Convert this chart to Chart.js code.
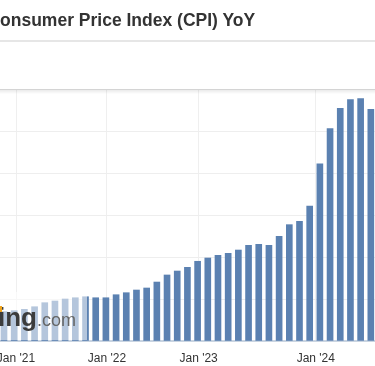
<!DOCTYPE html>
<html>
<head>
<meta charset="utf-8">
<script src="https://cdn.jsdelivr.net/npm/chart.js@4.4.1/dist/chart.umd.min.js"></script>
<style>
  html, body { margin: 0; padding: 0; background: #fff; }
  #wrap { position: relative; width: 375px; height: 366px; overflow: hidden; }
  #chart { position: absolute; left: 0; top: 0; }
  #title {
    position: absolute; left: -12.6px; top: 12px; white-space: nowrap;
    font: bold 17.5px "Liberation Sans", Arial, sans-serif; line-height: 1; color: #333;
  }
  #sep { position: absolute; left: 0; top: 40px; width: 375px; height: 2px; background: #e6e6e6; }
  #wm-cover { position: absolute; left: 0; top: 292px; width: 87px; height: 48px; background: rgba(255,255,255,0.55); }
  #wm {
    position: absolute; right: 299px; top: 304px; white-space: nowrap; text-align: right;
    font-family: "Liberation Sans", Arial, sans-serif; line-height: 1;
  }
  #wm .a { font-size: 26px; font-weight: bold; color: #3c3c3c; }
  #wm .b { font-size: 18px; color: #666; }
  #wm-dot { position: absolute; left: 0; top: 306px; width: 2px; height: 6px; background: #f2a51c; }
</style>
</head>
<body>
<div id="wrap">
  <canvas id="chart" width="375" height="366"></canvas>
  <div id="title">Consumer Price Index (CPI) YoY</div>
  <div id="sep"></div>
  <div id="wm-cover"></div>
  <div id="wm"><span class="a">Investing</span><span class="b">.com</span></div>
  <div id="wm-dot"></div>
</div>
<script>
// releases shown on the chart (one month is missing in the source, Nov '22)
var months = ["Dec '20", "Jan '21", "Feb '21", "Mar '21", "Apr '21", "May '21", "Jun '21", "Jul '21",
  "Sep '21", "Nov '21", "Jan '22", "Mar '22", "Apr '22", "May '22", "Jun '22", "Jul '22",
  "Aug '22", "Sep '22", "Oct '22", "Dec '22", "Jan '23", "Feb '23", "Mar '23", "Apr '23",
  "May '23", "Jun '23", "Jul '23", "Aug '23", "Sep '23", "Oct '23", "Nov '23", "Dec '23",
  "Jan '24", "Feb '24", "Mar '24", "Apr '24", "May '24"];

// YoY %
var cpiValues = [34.9, 36.1, 37.7, 40.8, 45.6, 47.6, 50.0, 51.5, 52.7, 51.5, 51.5, 55.1,
  57.5, 60.7, 63.1, 70.2, 78.6, 83.3, 87.7, 94.9, 98.8, 102.0, 104.4, 108.3, 113.9,
  115.1, 113.9, 124.6, 138.5, 142.5, 160.7, 211.0, 253.0, 277.0, 287.5, 288.5, 275.8];

// where the year labels sit, counted in bars from the first one
var yearTickPos = [1.18, 10.1, 19.1, 30.6];
var yearTickLabels = ["Jan '21", "Jan '22", "Jan '23", "Jan '24"];

var points = cpiValues.map(function (v, i) { return { x: i, y: v }; });

// darker top rule with a soft shadow under it
var topRule = {
  id: "topRule",
  afterDraw: function (chart) {
    var ctx = chart.ctx, a = chart.chartArea;
    ctx.save();
    var g = ctx.createLinearGradient(0, a.top, 0, a.top + 5);
    g.addColorStop(0, "rgba(0,0,0,0.10)");
    g.addColorStop(1, "rgba(0,0,0,0)");
    ctx.fillStyle = g;
    ctx.fillRect(0, a.top, chart.width, 5);
    ctx.strokeStyle = "#d4d4d4";
    ctx.lineWidth = 1;
    ctx.beginPath();
    ctx.moveTo(0, a.top + 0.5);
    ctx.lineTo(chart.width, a.top + 0.5);
    ctx.stroke();
    ctx.restore();
  }
};

new Chart(document.getElementById("chart"), {
  type: "bar",
  data: {
    labels: months,
    datasets: [{
      label: "CPI YoY",
      data: points,
      backgroundColor: "#5b81b1",
      barThickness: 6
    }]
  },
  options: {
    responsive: false,
    animation: false,
    layout: { padding: { top: 89, left: 0, right: 0, bottom: 0 } },
    plugins: { legend: { display: false }, tooltip: { enabled: false }, title: { display: false } },
    scales: {
      x: {
        type: "linear",
        min: -0.393,
        max: 36.41,
        offset: false,
        afterBuildTicks: function (scale) {
          scale.ticks = yearTickPos.map(function (p) { return { value: p }; });
        },
        afterFit: function (scale) {
          scale.paddingLeft = 0;
          scale.paddingRight = 0;
          scale.height = 25;
        },
        ticks: {
          autoSkip: false,
          maxRotation: 0,
          padding: 10,
          color: "#333",
          font: { family: "'Liberation Sans', Arial, sans-serif", size: 12 },
          callback: function (val, idx) { return yearTickLabels[idx]; }
        },
        grid: { color: "#efefef", drawTicks: false, offset: false },
        border: { color: "#c9d4e1", width: 2 }
      },
      y: {
        position: "right",
        min: 0,
        max: 300,
        afterFit: function (scale) {
          scale.width = 0;
          scale.paddingTop = 0;
          scale.paddingBottom = 0;
        },
        ticks: { display: false, stepSize: 50 },
        grid: { color: "#eeeeee", drawTicks: false },
        border: { display: false }
      }
    }
  },
  plugins: [topRule]
});
</script>
</body>
</html>
